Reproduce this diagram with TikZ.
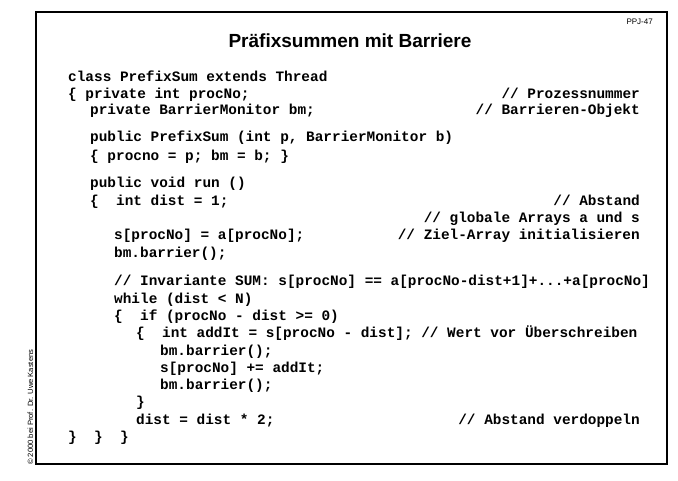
\documentclass[tikz,border=0pt]{standalone}
\usepackage{fontspec}
\setmainfont{Liberation Sans}
\newfontfamily\codefont{Liberation Mono}
\begin{document}
\begin{tikzpicture}[x=1pt,y=-1pt,
  code/.style={anchor=base west,inner sep=0,font=\codefont\bfseries\fontsize{14.4}{16}\selectfont},
  cmt/.style={anchor=base east,inner sep=0,font=\codefont\bfseries\fontsize{14.4}{16}\selectfont}]
\useasboundingbox (0,0) rectangle (678,480);
\draw[line width=1.2pt] (36,12) rectangle (667,464);
\node[anchor=base east,inner sep=0,font=\fontsize{8}{9}\selectfont] (ppj) at (653,24) {PPJ-47};
\node[anchor=base,inner sep=0,font=\bfseries\fontsize{19}{22}\selectfont] (title) at (350,47) {Präfixsummen mit Barriere};
\node[rotate=90,anchor=base west,inner sep=0,font=\fontsize{7.6}{8}\selectfont] (copy) at (33,465) {© 2000 bei Prof. Dr. Uwe Kastens};
\node[code] (l1) at (68,81) {class PrefixSum extends Thread};
\node[code] (l2) at (68,98) {\{ private int procNo;};
\node[cmt] (c2) at (640,98) {// Prozessnummer};
\node[code] (l3) at (90,114) {private BarrierMonitor bm;};
\node[cmt] (c3) at (640,114) {// Barrieren-Objekt};
\node[code] (l4) at (90,141) {public PrefixSum (int p, BarrierMonitor b)};
\node[code] (l5) at (90,160) {\{ procno = p; bm = b; \}};
\node[code] (l6) at (90,187) {public void run ()};
\node[code] (l7) at (90,205) {\{ \ int dist = 1;};
\node[cmt] (c7) at (640,205) {// Abstand};
\node[cmt] (c8) at (640,222) {// globale Arrays a und s};
\node[code] (l9) at (114,239) {s[procNo] = a[procNo];};
\node[cmt] (c9) at (640,239) {// Ziel-Array initialisieren};
\node[code] (l10) at (114,257) {bm.barrier();};
\node[code] (l11) at (114,285) {// Invariante SUM: s[procNo] == a[procNo-dist+1]+...+a[procNo]};
\node[code] (l12) at (114,303) {while (dist < N)};
\node[code] (l13) at (114,320) {\{ \ if (procNo - dist >= 0)};
\node[code] (l14) at (136,337) {\{ \ int addIt = s[procNo - dist]; // Wert vor Überschreiben};
\node[code] (l15) at (160,355) {bm.barrier();};
\node[code] (l16) at (160,372) {s[procNo] += addIt;};
\node[code] (l17) at (160,389) {bm.barrier();};
\node[code] (l18) at (136,406) {\}};
\node[code] (l19) at (136,424) {dist = dist * 2;};
\node[cmt] (c19) at (640,424) {// Abstand verdoppeln};
\node[code] (l20) at (68,441) {\} \ \} \ \}};
\end{tikzpicture}
\end{document}
